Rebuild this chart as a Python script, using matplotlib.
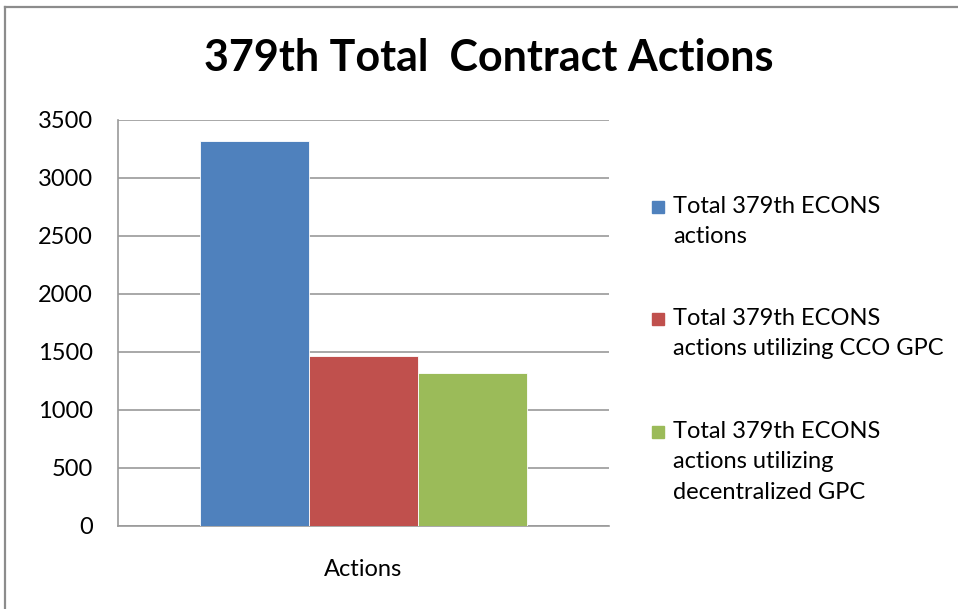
import matplotlib.pyplot as plt
from matplotlib.lines import Line2D
from matplotlib.patches import Rectangle

plt.rcParams['font.family'] = ['Lato', 'DejaVu Sans']

category = 'Actions'
series = ['Total 379th ECONS\nactions',
          'Total 379th ECONS\nactions utilizing CCO GPC',
          'Total 379th ECONS\nactions utilizing\ndecentralized GPC']
values = [3315, 1466, 1322]
colors = ['#4F81BD', '#C0504D', '#9BBB59']
yticks = [0, 500, 1000, 1500, 2000, 2500, 3000, 3500]

W, H = 958, 609
fig = plt.figure(figsize=(W/100, H/100), dpi=100)
ax = fig.add_axes([118/W, 1-526/H, (609-118)/W, (526-120)/H])

for i, (v, c, s) in enumerate(zip(values, colors, series)):
    ax.bar(i - 1, v, width=1.0, color=c, edgecolor='#ffffff', linewidth=0.6,
           label=s, zorder=3)

ax.set_xlim(-2.25, 2.25)
ax.set_ylim(0, 3500)
ax.set_yticks(yticks)
ax.set_xticks([0])
ax.set_xticklabels([category])
ax.tick_params(axis='y', length=0, pad=18, labelsize=17)
ax.tick_params(axis='x', length=0, pad=24, labelsize=17)
ax.grid(axis='y', color='#9a9a9a', linewidth=1.2, zorder=0)
for side in ['top', 'right']:
    ax.spines[side].set_visible(False)
for side in ['left', 'bottom']:
    ax.spines[side].set_color('#9a9a9a')
    ax.spines[side].set_linewidth(1.2)

fig.text(489/W, 1-58/H, '379th Total  Contract Actions', ha='center', va='center',
         fontsize=31, fontweight='bold')

# legend: square aligned with the first line of each label
first_line_y = [207, 319, 432]
for s, c, y in zip(series, colors, first_line_y):
    fig.add_artist(Rectangle((652/W, 1-(y+6)/H), 12/W, 12/H, color=c,
                             transform=fig.transFigure))
    fig.text(673/W, 1-(y-11)/H, s, ha='left', va='top', fontsize=17,
             linespacing=1.55)

# outer chart border (left and top visible)
fig.add_artist(Line2D([5/W, 5/W], [0, 1-6.5/H], color='#8c8c8c', linewidth=1.6))
fig.add_artist(Line2D([5/W, 1], [1-6.5/H, 1-6.5/H], color='#8c8c8c', linewidth=1.6))

fig.savefig('out.png', dpi=100)
